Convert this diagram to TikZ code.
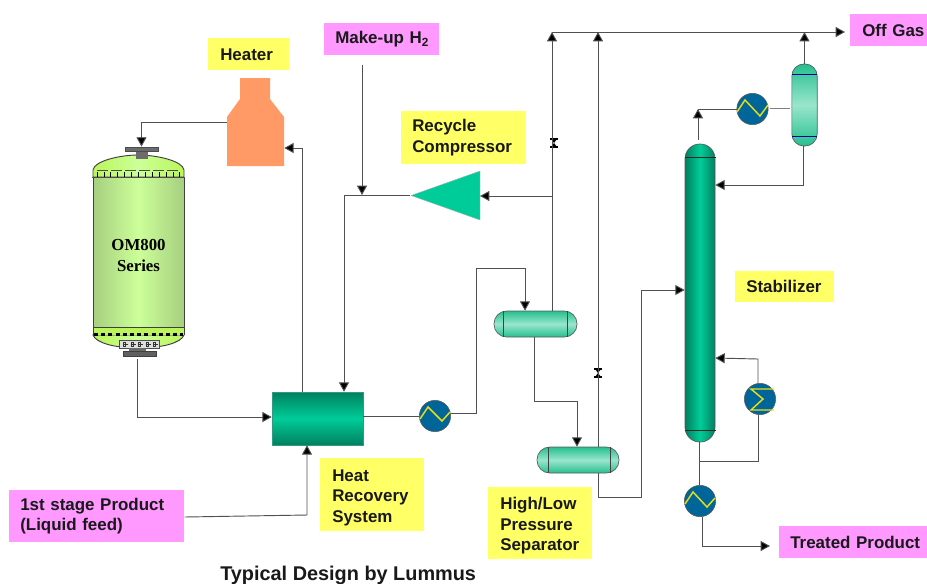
\documentclass[tikz,border=0pt]{standalone}
\usepackage{fontspec}
\setmainfont{Liberation Sans}
\newfontfamily\serifbold{Liberation Serif}[BoldFont={Liberation Serif Bold}]
\usetikzlibrary{arrows.meta}
\definecolor{lab}{HTML}{FFFF66}
\definecolor{pinkl}{HTML}{FF99FF}
\definecolor{pipe}{HTML}{505050}
\definecolor{gA}{HTML}{00CC99}
\definecolor{gB}{HTML}{008060}
\definecolor{gC}{HTML}{99E6CC}
\definecolor{gD}{HTML}{26BF8F}
\definecolor{hxb}{HTML}{006699}
\definecolor{rA}{HTML}{A6CF7F}
\definecolor{rB}{HTML}{CCFF99}
\definecolor{rC}{HTML}{BBF55B}
\definecolor{heatc}{HTML}{FF9966}
\newcommand{\lowerstrut}{\rule{0pt}{13pt}}
\tikzset{
  x=.75pt,y=-.75pt,
  tag/.style n args={4}{rectangle,fill=#1,anchor=north west,inner ysep=0pt,
     inner xsep=#4*.75pt,minimum width=#2*.75pt,minimum height=#3*.75pt,
     text width=(#2-2*#4)*.75pt,align=left,font=\fontsize{12.7pt}{15.5pt}\selectfont\bfseries,text=black!90},
  pipeline/.style={draw=pipe,line width=.7pt},
  flow/.style={pipeline,-{Triangle[length=7pt,width=7.5pt,fill=black]}},
  hdrum/.style n args={2}{rectangle,draw=gray!70!black,line width=.5pt,inner sep=0pt,
     minimum width=#1*.75pt,minimum height=#2*.75pt,rounded corners=9.5pt,
     top color=gD,bottom color=gD,middle color=gC},
  hx/.style={circle,fill=hxb,draw=gray!70!black,line width=.4pt,inner sep=0pt,minimum size=23.5pt},
  zig/.style={draw=yellow!90!black,line width=1.1pt},
  band/.style={line width=.7pt},
}
\newcommand{\valvemark}[2]{%
  \draw[black,line width=.9pt] (#1-4,#2-4)--(#1+4,#2-4) (#1-4,#2+4)--(#1+4,#2+4);
  \fill[black] (#1-3,#2-4)--(#1+3,#2-4)--(#1-3,#2+4)--(#1+3,#2+4)--cycle;}
\begin{document}
\begin{tikzpicture}
\useasboundingbox (0,0) rectangle (927,583);
% labels
\node[tag={lab}{81}{32}{12}] (heaterlab) at (208,38) {Heater};
\node[tag={pinkl}{115}{32}{11}] (makeup) at (324,23) {\mbox{Make-up H\textsubscript{2}}};
\node[tag={lab}{125}{53}{11}] (recyclelab) at (401,111) {Recycle\\Compressor};
\node[tag={pinkl}{77}{32}{12}] (offgas) at (850,14) {\mbox{Off Gas}};
\node[tag={lab}{99}{31}{11}] (stablab) at (735,271) {Stabilizer};
\node[tag={lab}{104}{73}{12}] (heatlab) at (320,458) {\lowerstrut Heat\\Recovery\\System};
\node[tag={lab}{104}{72}{12}] (seplab) at (488,487) {\lowerstrut High/Low\\Pressure\\Separator};
\node[tag={pinkl}{175}{52}{11}] (feed) at (9,490) {1st stage Product\\(Liquid feed)};
\node[tag={pinkl}{148}{32}{11}] (treated) at (779,526) {\mbox{Treated Product}};
\node[anchor=base west,inner sep=0pt,font=\fontsize{14.9pt}{15pt}\selectfont\bfseries,text=black!90] (title) at (220,580) {Typical Design by Lummus};
% heater
\fill[heatc] (240,78)--(270,78)--(270,99)--(284,117)--(284,166)--(227,166)--(227,117)--(240,99)--cycle;
\node[rectangle,inner sep=0pt,minimum width=42.75pt,minimum height=36.75pt] (heater) at (255.5,141.5) {};
% reactor
\shade[left color=rC,right color=rC,middle color=rB,draw=black!75,line width=.7pt] (93,177)--(93,170) .. controls (94,161) and (120,155) .. (138,155) .. controls (157,155) and (183,161) .. (184,170)--(184,177)--cycle;
\shade[left color=rC,right color=rC,middle color=rB,draw=black!75,line width=.7pt] (93,335) .. controls (96,343) and (115,348) .. (138,348) .. controls (162,348) and (181,343) .. (184,335)--cycle;
\node[rectangle,draw=black!75,line width=.7pt,inner sep=0pt,minimum width=68.25pt,minimum height=112.5pt,left color=rA,right color=rA,middle color=rB,align=center,font=\serifbold\fontsize{12.6pt}{15.7pt}\selectfont\bfseries] (reactor) at (138.5,252) {\rule{0pt}{13pt}OM800\\Series};
\fill[rC] (93.4,327.5) rectangle (183.6,334.6);
\draw[black!75,line width=.7pt] (93,327)--(93,335) (184,327)--(184,335);
\draw[black,line width=1.6pt,dash pattern=on 3pt off 2.4pt] (94,334.5)--(183,334.5);
\draw[black!70,line width=.7pt] (92,177)--(185,177);
\foreach \i in {0,...,5}{\draw[gray!60!black,line width=.7pt] (97+\i*14,170)--(108+\i*14,170);}
\foreach \i in {0,...,12}{\draw[black,line width=.6pt] (97+\i*6.9,172)--(97+\i*6.9,177);}
% top and bottom nozzles
\fill[gray!85!black] (136,150)--(148,150)--(148,159)--(136,159)--cycle;
\node[rectangle,fill=gray!85!black,draw=black!70,line width=.4pt,inner sep=0pt,minimum width=24.5pt,minimum height=3.2pt] (topflange) at (141.5,149) {};
\node[rectangle,fill=gray!25,draw=black!70,line width=.4pt,inner sep=0pt,minimum width=30pt,minimum height=6pt] (distrib) at (139,344) {};
\foreach \i in {0,...,4}{\draw[black!80,line width=.5pt] (123+\i*7.5,344)--(128+\i*7.5,344); \draw[black!80,line width=.5pt] (123.5+\i*7.5,342) rectangle (125.5+\i*7.5,346);}
\fill[gray!85!black] (129,348)--(146,348)--(146,351)--(129,351)--cycle;
\node[rectangle,fill=gray!75!black,draw=gray!50!black,line width=.4pt,inner sep=0pt,minimum width=24.5pt,minimum height=3.8pt] (botflange) at (139.5,353.5) {};
% heat recovery system
\node[rectangle,draw=gB!80,line width=.4pt,inner sep=0pt,minimum width=68.25pt,minimum height=39.75pt,top color=gB,bottom color=gB,middle color=gA] (hrs) at (317.5,418.5) {};
% compressor
\node[inner sep=0pt,minimum size=0pt] (comp) at (480,196) {};
\fill[gA,draw=gray!60,line width=.3pt] (480,171)--(480,220)--(411,195.5)--cycle;
% drums
\node[hdrum={83}{26}] (sepA) at (535.5,324) {};
\draw[band,black!75] (503,311)--(503,337) (567,311)--(567,337);
\node[hdrum={82}{26}] (sepB) at (578,460) {};
\draw[band,black!75] (548,447)--(548,473) (610,447)--(610,473);
% stabilizer
\node[rectangle,draw=gray!70!black,line width=.5pt,inner sep=0pt,minimum width=22.5pt,minimum height=223.5pt,rounded corners=11pt,left color=gB,right color=gB,middle color=gA] (stab) at (700,293) {};
\draw[band,black!85] (685,157)--(716,157) (685,430)--(716,430);
% overhead drum
\node[rectangle,draw=gray!70!black,line width=.5pt,inner sep=0pt,minimum width=19pt,minimum height=61.5pt,rounded corners=9pt,top color=gD,bottom color=gD,middle color=gC] (ohd) at (804.5,105) {};
\draw[band,blue!60!black] (792,74)--(817,74) (792,136)--(817,136);
% exchangers
\node[hx] (hxA) at (435,416) {};
\draw[zig] (420,419)--(428,407)--(442,421)--(450,412);
\node[hx] (hxB) at (752.5,109) {};
\draw[zig] (737,112)--(745,100)--(760,116)--(768,105);
\node[hx] (hxC) at (700,501) {};
\draw[zig] (685,504)--(693,492)--(707,507)--(715,498);
\node[hx] (reb) at (760,399) {};
\draw[zig] (774,389)--(751,389)--(763,399)--(751,410)--(774,410);
% valves
\valvemark{554}{143}
\valvemark{598}{373}
% junction coordinates
\coordinate (topA) at (552,32);
\coordinate (topB) at (598,32);
\coordinate (ogin) at (845,32);
\coordinate (mix) at (362,195);
\coordinate (mixL) at (344,195);
\coordinate (recyc) at (552,196);
\coordinate (botjoin) at (699,461);
% connectors
\draw[flow] (heater.west|-0,122) -| (topflange.north);
\draw[flow] (hrs.north-|302,0) -- (302,148) -- (heater.east|-0,148);
\draw[flow] (makeup.south-|362,0) ++(0,9) -- (mix);
\draw[pipeline] (mix) -- (410,195);
\draw[pipeline] (mix) -- (mixL);
\draw[flow] (mixL) -- (mixL|-hrs.north);
\draw[flow] (recyc) -- (comp.center);
\draw[flow] (sepA.north-|topA) -- (topA);
\draw[flow] (sepB.north-|topB) -- (topB);
\draw[flow] (topA) -- (ogin);
\draw[flow] (ohd.north) -- (804.5,32);
\draw[flow] (stab.north-|698,0) ++(0,-4) -- (698,109);
\draw[pipeline] (hxB.west) -- (698,109);
\draw[pipeline,gray] (hxB.east) ++(2,-1) -- (790,108);
\draw[flow] (ohd.south-|803,0) -- (803,185) -- (stab.east|-0,185);
\draw[flow] (botflange.south-|137,0) ++(0,3) -- (137,417) -- (hrs.west|-0,417);
\draw[flow] (feed.east|-0,517) -- (307,515) -- (hrs.south-|307,0);
\draw[pipeline] (hrs.east|-hxA) -- (hxA.west);
\draw[flow] (hxA.east|-0,413) -- (476,413) -- (476,268) -- (525,268) -- (sepA.north-|525,0);
\draw[flow] (sepA.south-|534,0) -- (534,401) -- (577,401) -- (sepB.north-|577,0);
\draw[flow] (sepB.south-|598,0) -- (598,497) -- (641,497) -- (641,290) -- (stab.west|-0,290);
\draw[flow] (reb.north-|758,0) -- (758,359) -- (stab.east|-0,358);
\draw[pipeline] (reb.south-|758,0) -- (758,461) -- (botjoin);
\draw[pipeline] (stab.south-|699,0) -- (hxC.north-|699,0);
\draw[flow] (hxC.south-|702,0) -- (702,546) -- (770,546);
\end{tikzpicture}
\end{document}
